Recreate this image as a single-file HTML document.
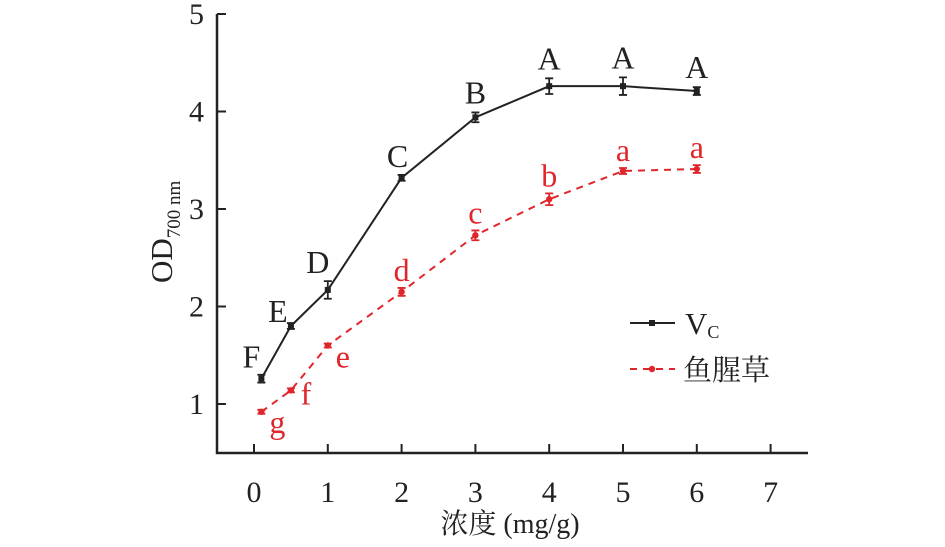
<!DOCTYPE html>
<html><head><meta charset="utf-8"><style>
html,body{margin:0;padding:0;background:#fff;width:945px;height:547px;overflow:hidden}
svg{display:block}
text{font-family:"Liberation Serif","Noto Serif CJK SC",serif}
</style></head><body>
<svg id="chart" width="945" height="547"></svg>
<script>
const xTicks=[0,1,2,3,4,5,6,7];
const yTicks=[1,2,3,4,5];
const vcX=[0.1,0.5,1,2,3,4,5,6];
const vcY=[1.26,1.8,2.17,3.32,3.94,4.26,4.26,4.21];
const vcErr=[0.03,0.02,0.08,0.02,0.04,0.07,0.08,0.03];
const vcLabels=["F","E","D","C","B","A","A","A"];
const hxX=[0.1,0.5,1,2,3,4,5,6];
const hxY=[0.92,1.14,1.6,2.15,2.73,3.1,3.39,3.41];
const hxErr=[0.01,0.01,0.01,0.03,0.04,0.05,0.02,0.03];
const hxLabels=["g","f","e","d","c","b","a","a"];

const NS="http://www.w3.org/2000/svg";
const svg=document.getElementById('chart');
const X=v=>254+v*73.8;
const Y=v=>14+(5-v)*97.5;
function el(tag,attrs,parent){const e=document.createElementNS(NS,tag);for(const k in attrs)e.setAttribute(k,attrs[k]);(parent||svg).appendChild(e);return e;}

let a=el('path',{d:`M217,14 V453 H808`,stroke:'#222','stroke-width':2.5,fill:'none'});


xTicks.forEach(t=>{
  let l=el('line',{x1:X(t),x2:X(t),y1:453,y2:444,stroke:'#222','stroke-width':2});
  
  
  let tx=el('text',{x:X(t),y:502,'text-anchor':'middle','font-size':30,fill:'#222'});tx.textContent=t;
  
  
});
yTicks.forEach(t=>{
  let l=el('line',{x1:217,x2:226,y1:Y(t),y2:Y(t),stroke:'#222','stroke-width':2});
  
  
  let tx=el('text',{x:204,y:Y(t)+10,'text-anchor':'end','font-size':30,fill:'#222'});tx.textContent=t;
  
  
});
let xt=el('text',{x:510,y:533,'text-anchor':'middle','font-size':28,fill:'#222'});
xt.textContent='浓度 (mg/g)';


let yt=el('text',{transform:'translate(172,283) rotate(-90)','font-size':31,fill:'#222'});
yt.innerHTML='OD<tspan font-size="19" dy="8">700 nm</tspan>';



function series(xs,ys,errs,labels,color,dash,name,labelPos){
  const g=el('g',{});
  
  
  let p=el('polyline',{points:xs.map((x,i)=>X(x)+','+Y(ys[i])).join(' '),fill:'none',stroke:color,'stroke-width':2,'stroke-dasharray':dash},g);
  
  
  xs.forEach((x,i)=>{
    const cx=X(x),cy=Y(ys[i]),e=errs[i]*97.5;
    let eb=el('path',{d:`M${cx},${cy-e-1} V${cy+e+1} M${cx-4},${cy-e-1} H${cx+4} M${cx-4},${cy+e+1} H${cx+4}`,stroke:color,'stroke-width':1.8,fill:'none'},g);
    
    
    let m=dash?el('circle',{cx:cx,cy:cy,r:3.2,fill:color},g):el('rect',{x:cx-3,y:cy-3,width:6,height:6,fill:color},g);
    
    
    const [dx,dy]=labelPos(i,cx,cy,e);
    let t=el('text',{x:cx+dx,y:cy+dy,'text-anchor':'middle','font-size':32,fill:color},g);
    t.textContent=labels[i];
    
    
  });
}
series(vcX,vcY,vcErr,vcLabels,'#222','', 'vc',(i,cx,cy,e)=>{
  if(i===0)return[-10,-11];
  if(i===1)return[-13,-4];
  if(i===2)return[-10,-e-9];
  if(i===3)return[-4,-e-9];
  return[0,-e-10];
});
series(hxX,hxY,hxErr,hxLabels,'#e0262b','7,6','houttuynia',(i,cx,cy,e)=>{
  if(i<3)return[[16,15,15][i],[21,14,22][i]];
  return[0,-e-8];
});

let lg=el('g',{});


el('line',{x1:630,x2:675,y1:323,y2:323,stroke:'#222','stroke-width':2},lg);
el('rect',{x:649,y:320,width:6,height:6,fill:'#222'},lg);
let l1=el('text',{x:685,y:334,'font-size':31,fill:'#222'},lg);
l1.innerHTML='V<tspan font-size="18" dy="4">C</tspan>';


el('line',{x1:630,x2:675,y1:369,y2:369,stroke:'#e0262b','stroke-width':2,'stroke-dasharray':'7,6'},lg);
el('circle',{cx:652,cy:369,r:3.2,fill:'#e0262b'},lg);
let l2=el('text',{x:683,y:380,'font-size':29,fill:'#222'},lg);
l2.textContent='鱼腥草';


</script>
</body></html>
